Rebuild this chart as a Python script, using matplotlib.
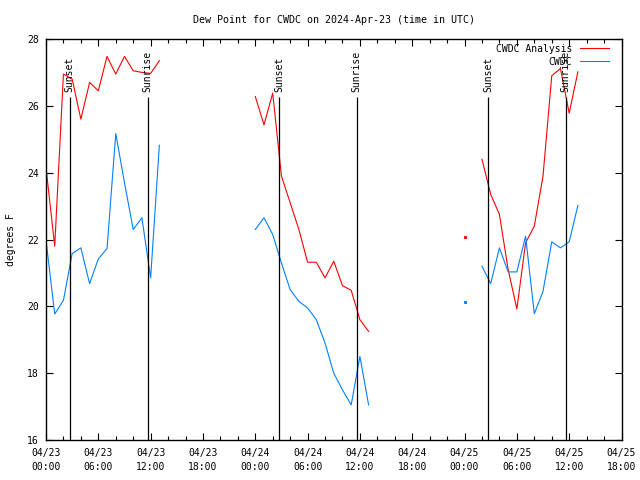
import numpy as np
import pandas as pd
import matplotlib
matplotlib.use("Agg")
import matplotlib.pyplot as plt
import matplotlib.dates as mdates

nan = np.nan

# hourly times starting 2024-04-23 00:00 UTC
times = pd.date_range("2024-04-23 00:00", periods=62, freq="h")

# CWDC Analysis dew point (F)
analysis = [24.15, 21.8, 26.95, 26.8, 25.6, 26.7, 26.45, 27.48, 26.95, 27.48, 27.05, 27.0, 26.97, 27.35,
            nan, nan, nan, nan, nan, nan, nan, nan, nan, nan,
            26.28, 25.43, 26.38, 23.9, 23.1, 22.3, 21.32, 21.32, 20.85, 21.35, 20.62, 20.48, 19.6, 19.25,
            nan, nan, nan, nan, nan, nan, nan, nan, nan, nan,
            22.08, nan,
            24.4, 23.35, 22.75, 21.1, 19.92, 21.9, 22.4, 23.9, 26.9, 27.12, 25.78, 27.02]

# CWDC observed dew point (F)
observed = [21.98, 19.77, 20.18, 21.58, 21.75, 20.68, 21.42, 21.73, 25.17, 23.7, 22.3, 22.65, 20.85, 24.82,
            nan, nan, nan, nan, nan, nan, nan, nan, nan, nan,
            22.3, 22.65, 22.15, 21.3, 20.5, 20.15, 19.95, 19.6, 18.9, 18.0, 17.5, 17.05, 18.5, 17.05,
            nan, nan, nan, nan, nan, nan, nan, nan, nan, nan,
            20.13, nan,
            21.2, 20.68, 21.75, 21.03, 21.03, 22.1, 19.78, 20.45, 21.93, 21.75, 21.93, 23.02]

sunsets = pd.to_datetime(["2024-04-23 02:43", "2024-04-24 02:44", "2024-04-25 02:44"])
sunrises = pd.to_datetime(["2024-04-23 11:40", "2024-04-24 11:38", "2024-04-25 11:35"])

plt.rcParams["font.family"] = ["DejaVu Sans Mono"]
plt.rcParams["font.size"] = 7

fig = plt.figure(figsize=(6.4, 4.8), dpi=100)
ax = fig.add_axes([46 / 640, 40 / 480, 575.5 / 640, 401 / 480])

ax.plot(times, analysis, color="#ff0000", lw=0.8, label="CWDC Analysis")
ax.plot(times, observed, color="#0080ff", lw=0.8, label="CWDC")

# single hour with data on both sides missing shows up as a dot
ax.plot(times[48], analysis[48], "s", color="#ff0000", markersize=1.2)
ax.plot(times[48], observed[48], "s", color="#0080ff", markersize=1.2)

# sunset / sunrise markers
for t in sunsets:
    ax.vlines(t, 16, 26.25, color="black", lw=0.9)
    ax.text(t, 26.42, "Sunset", rotation=90, ha="center", va="bottom")
for t in sunrises:
    ax.vlines(t, 16, 26.25, color="black", lw=0.9)
    ax.text(t, 26.42, "Sunrise", rotation=90, ha="center", va="bottom")

ax.set_xlim(pd.Timestamp("2024-04-23 00:00"), pd.Timestamp("2024-04-25 18:00"))
ax.set_ylim(16, 28)
ax.set_yticks([16, 18, 20, 22, 24, 26, 28])

ax.xaxis.set_major_locator(mdates.HourLocator(byhour=[0, 6, 12, 18]))
ax.xaxis.set_minor_locator(mdates.HourLocator(byhour=range(0, 24, 2)))
ax.xaxis.set_major_formatter(mdates.DateFormatter("%m/%d\n%H:%M"))

ax.tick_params(which="both", direction="in", top=True, right=True, width=0.8)
ax.tick_params(which="major", length=5, pad=6)
ax.tick_params(which="minor", length=3)
ax.tick_params(axis="y", pad=5)
for s in ax.spines.values():
    s.set_linewidth(1.0)

ax.set_ylabel("degrees F", labelpad=8)
ax.set_title("Dew Point for CWDC on 2024-Apr-23 (time in UTC)", fontsize=7.2, pad=11.5)

ax.legend(loc="upper right", bbox_to_anchor=(0.978, 0.988), frameon=False,
          markerfirst=False, handlelength=3.0, handletextpad=0.8,
          labelspacing=0.3, borderpad=0, borderaxespad=0, fontsize=7)

fig.canvas.draw()
plt.setp(ax.get_xticklabels(), linespacing=1.5)

fig.savefig("out.png", dpi=100)
